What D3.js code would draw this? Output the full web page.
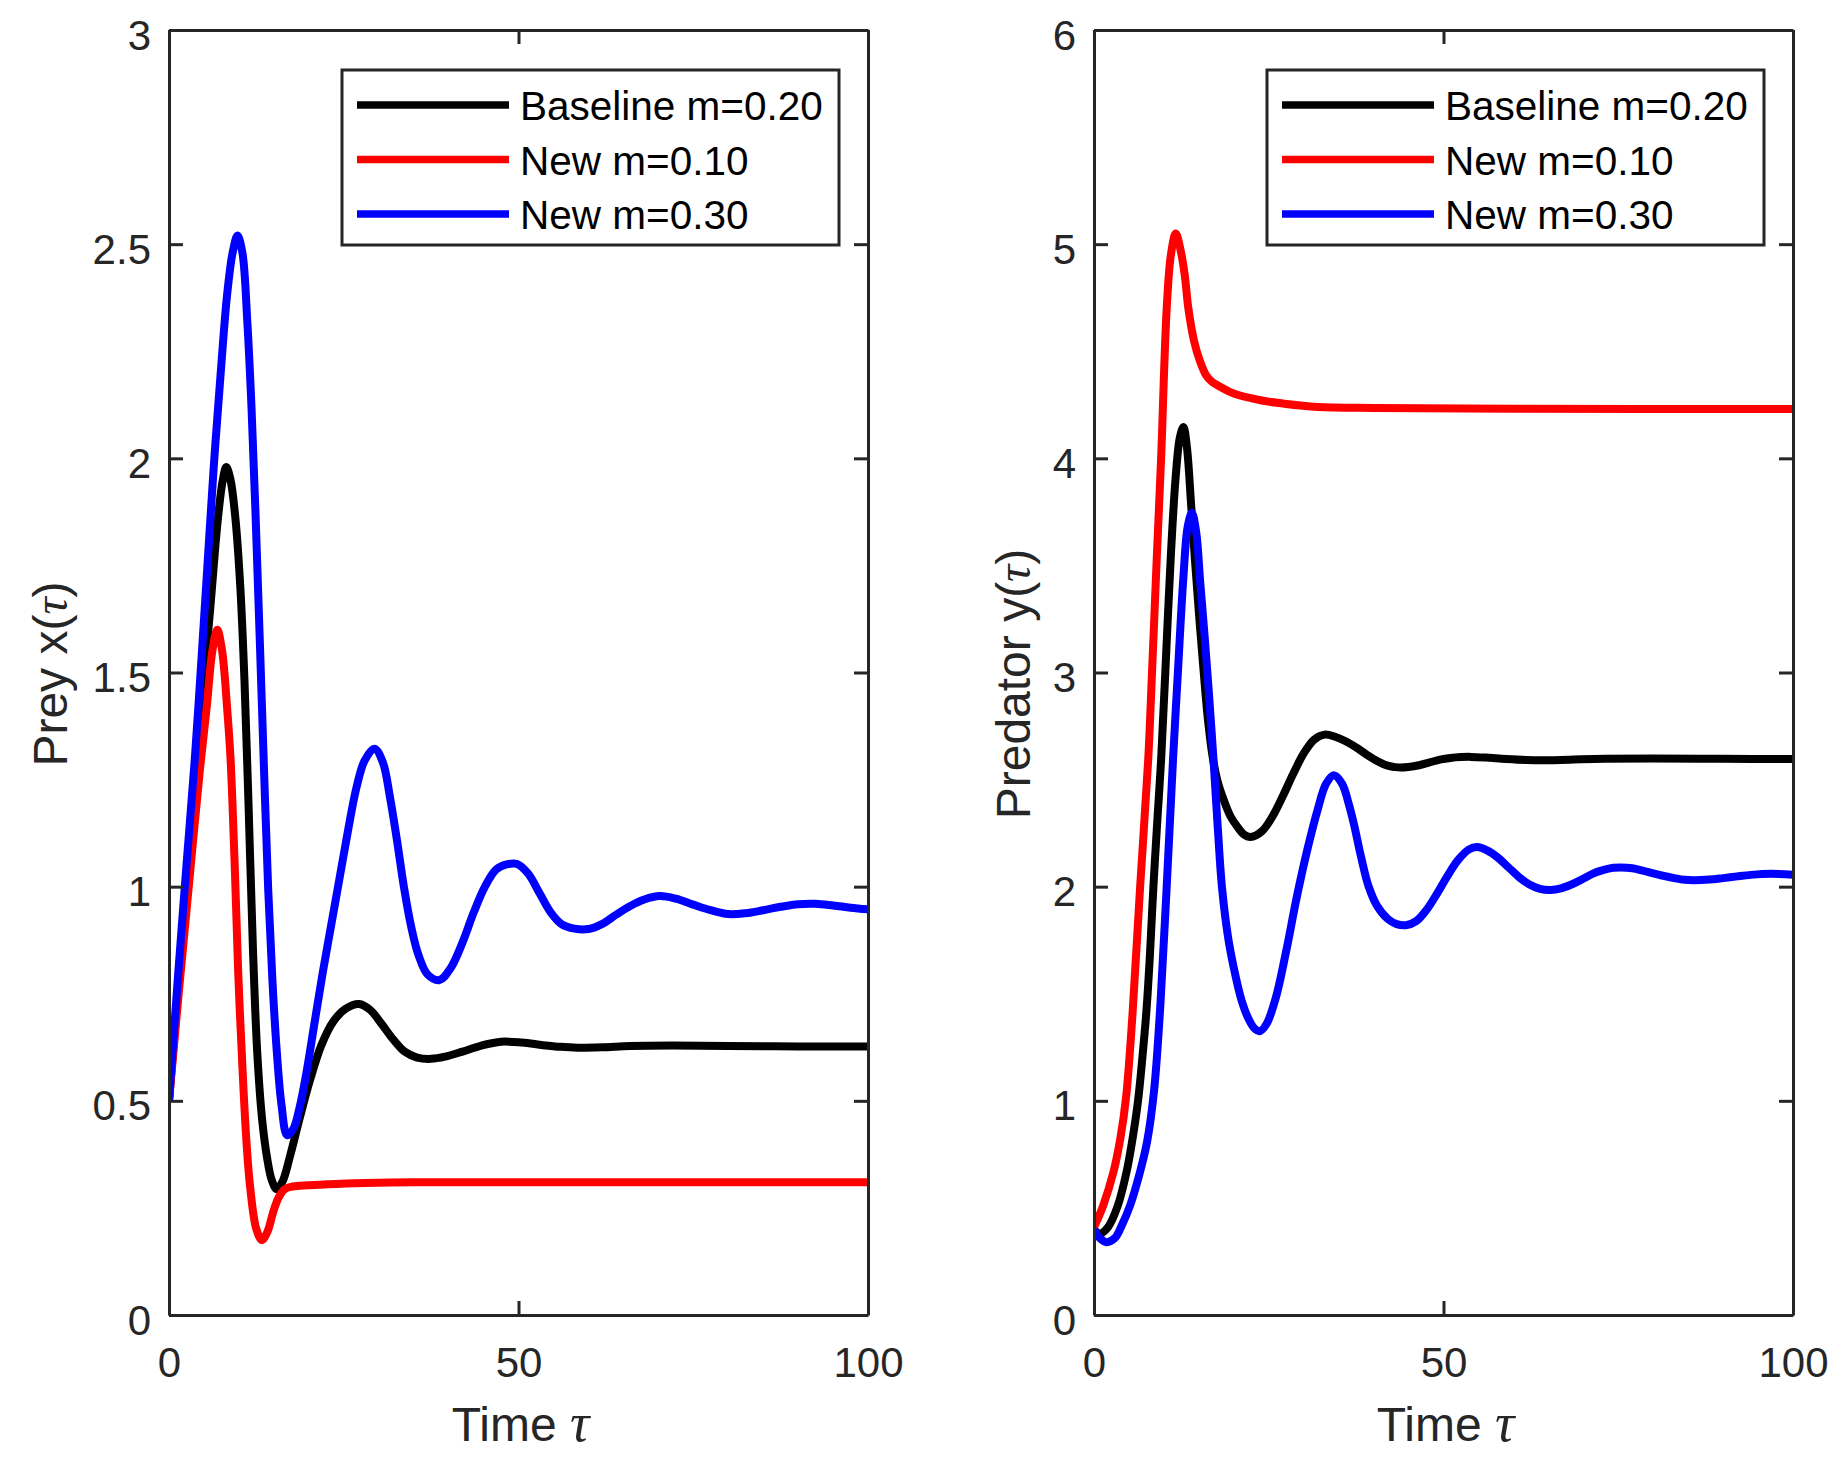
<!DOCTYPE html>
<html>
<head>
<meta charset="utf-8">
<script src="https://cdn.jsdelivr.net/npm/d3@7"></script>
<style>
  html, body { margin: 0; padding: 0; background: #ffffff; }
  svg { display: block; }
</style>
</head>
<body>
<script>
// ---------------- data ----------------
const timeDomain = [0, 100];
const xTickValues = [0, 50, 100];
const xTickLabels = ["0", "50", "100"];

const preyDomain = [0, 3];
const preyTickValues = [0, 0.5, 1, 1.5, 2, 2.5, 3];
const preyTickLabels = ["0", "0.5", "1", "1.5", "2", "2.5", "3"];

const predDomain = [0, 6];
const predTickValues = [0, 1, 2, 3, 4, 5, 6];
const predTickLabels = ["0", "1", "2", "3", "4", "5", "6"];

const seriesNames = ["Baseline m=0.20", "New m=0.10", "New m=0.30"];
const seriesColors = ["#000000", "#ff0000", "#0000ff"];

// Prey x(tau): [time, value]
const preyBaseline = [
  [0,0.5],[1.5,0.8],[3,1.1],[4.5,1.4],[5.85,1.64],[7,1.86],[7.7,1.95],[8.2,1.98],[8.8,1.95],
  [9.5,1.86],[10.2,1.70],[10.8,1.48],[11.4,1.18],[12.0,0.86],[12.6,0.62],[13.3,0.46],
  [14.0,0.37],[14.7,0.315],[15.4,0.294],[16.2,0.31],[17.3,0.37],[18.7,0.46],
  [20.2,0.55],[21.8,0.63],[23.5,0.685],[25.3,0.715],[27.2,0.726],[28.8,0.712],
  [30.4,0.68],[32,0.645],[33.7,0.615],[35.5,0.601],[37.5,0.598],[39.5,0.603],
  [42,0.615],[44.7,0.629],[47.5,0.638],[50.5,0.636],[53.5,0.63],[56,0.626],
  [58.5,0.624],[62,0.625],[66,0.628],[72,0.629],[80,0.628],[90,0.627],[100,0.627]
];
const preyLow = [
  [0,0.5],[1.5,0.77],[3,1.03],[4.4,1.27],[5.4,1.42],[6.2,1.55],[6.9,1.60],
  [7.6,1.55],[8.3,1.42],[8.8,1.30],[9.4,1.05],[9.9,0.80],[10.6,0.546],[11.1,0.40],
  [11.6,0.30],[12.5,0.20],[13.3,0.175],[14.1,0.195],[14.9,0.24],[15.7,0.275],
  [16.6,0.294],[17.7,0.300],[20,0.303],[24,0.306],[28,0.308],[35,0.31],[50,0.31],[100,0.31]
];
const preyHigh = [
  [0,0.5],[1.33,0.8],[2.5,1.05],[3.7,1.3],[4.6,1.52],[5.5,1.75],[6.4,1.98],
  [7.4,2.2],[8.3,2.38],[9.1,2.48],[9.8,2.52],[10.5,2.48],[11.2,2.32],[11.8,2.12],
  [12.4,1.86],[13.0,1.57],[13.6,1.27],[14.2,0.99],[14.8,0.78],[15.4,0.62],
  [16.1,0.49],[16.9,0.42],[17.8,0.435],[18.7,0.486],[19.6,0.56],[20.8,0.68],
  [22,0.80],[23.2,0.91],[24.4,1.02],[25.6,1.13],[26.8,1.23],[28,1.295],
  [29.4,1.322],[30.6,1.29],[31.6,1.21],[32.6,1.11],[33.6,1.0],[34.6,0.91],
  [35.7,0.84],[37,0.795],[38.7,0.782],[40.3,0.81],[42,0.87],[43.6,0.94],
  [45.2,1.0],[46.8,1.04],[48.3,1.052],[49.8,1.053],[51.4,1.03],[53,0.985],
  [54.6,0.94],[56.2,0.912],[58,0.902],[60,0.901],[62,0.913],[64,0.935],
  [66,0.955],[68,0.97],[70.2,0.978],[72.5,0.972],[75,0.958],[77.5,0.945],
  [80,0.936],[82.5,0.938],[85,0.945],[87.5,0.953],[90,0.959],[92.5,0.96],
  [95,0.956],[97.5,0.951],[100,0.947]
];

// Predator y(tau): [time, value]
const predBaseline = [
  [0,0.40],[0.8,0.38],[2,0.41],[3.4,0.51],[4.67,0.67],[5.5,0.82],[6.3,1.0],
  [7.0,1.23],[7.5,1.42],[8.0,1.68],[8.5,2.0],[9.1,2.33],[9.6,2.59],[10.2,3.0],
  [11.0,3.55],[11.7,3.92],[12.3,4.1],[12.8,4.146],[13.3,4.05],[13.9,3.78],
  [14.5,3.5],[15.1,3.24],[15.7,3.0],[16.3,2.78],[17,2.6],[17.7,2.49],[18.5,2.41],
  [19.5,2.33],[20.5,2.28],[21.4,2.245],[22.4,2.232],[24,2.258],[25.5,2.326],
  [27,2.422],[28.5,2.527],[30,2.622],[31.5,2.687],[33,2.71],[34.5,2.70],
  [36,2.679],[37.5,2.65],[39,2.617],[40.5,2.587],[42,2.565],[43.5,2.557],
  [45,2.559],[46.5,2.567],[48,2.58],[49.5,2.593],[51,2.601],[52.5,2.605],
  [53.9,2.606],[56,2.603],[59,2.596],[62,2.591],[64,2.59],[68,2.593],
  [73,2.597],[80,2.598],[90,2.597],[100,2.596]
];
const predLow = [
  [0,0.41],[1.3,0.51],[2.8,0.67],[3.8,0.83],[4.6,1.02],[5.5,1.40],[6.6,2.0],
  [7.75,2.59],[8.3,3.0],[9.0,3.55],[9.6,4.0],[10.4,4.7],[11.0,4.95],[11.7,5.05],
  [12.4,4.97],[13.0,4.85],[13.5,4.7],[14.3,4.55],[15.2,4.45],[16.0,4.39],
  [16.8,4.36],[18,4.335],[20.2,4.30],[24,4.27],[27.2,4.255],[32,4.24],
  [40,4.235],[60,4.232],[100,4.23]
];
const predHigh = [
  [0,0.40],[0.8,0.36],[1.8,0.34],[3,0.36],[4,0.42],[5.15,0.51],[6.6,0.67],
  [7.6,0.81],[8.6,1.05],[9.5,1.45],[10.4,2.0],[11.3,2.59],[12.0,3.0],
  [12.8,3.45],[13.4,3.68],[14.0,3.746],[14.6,3.66],[15.2,3.42],[15.8,3.18],
  [16.4,2.92],[17.1,2.59],[17.7,2.28],[18.3,2.0],[19.2,1.76],[20.2,1.59],
  [21.1,1.47],[22,1.39],[22.9,1.34],[23.7,1.325],[24.7,1.36],[26,1.48],
  [27.5,1.70],[29,1.95],[30.5,2.17],[32,2.36],[33.2,2.48],[34.3,2.52],
  [35.5,2.48],[36.5,2.38],[37.2,2.29],[38.2,2.14],[39.3,2.0],[40.5,1.91],
  [42,1.85],[43.3,1.825],[44.6,1.82],[46.1,1.839],[47.6,1.893],[49.1,1.969],
  [50.6,2.052],[52.1,2.125],[53.6,2.173],[54.8,2.185],[56.3,2.168],
  [57.8,2.135],[59.3,2.09],[60.8,2.045],[62.3,2.01],[63.8,1.99],[65.3,1.985],
  [66.8,1.992],[68.3,2.01],[69.8,2.034],[71.3,2.06],[72.8,2.077],[74.3,2.088],
  [75.4,2.09],[77,2.086],[78.5,2.075],[80,2.062],[81.5,2.05],[83,2.04],
  [84.5,2.032],[85.8,2.03],[88,2.033],[90,2.04],[92,2.048],[94,2.055],
  [96.8,2.06],[100,2.056]
];

const panels = [
  { yLabel: "Prey x(", domain: preyDomain, tickValues: preyTickValues, tickLabels: preyTickLabels,
    series: [preyBaseline, preyLow, preyHigh] },
  { yLabel: "Predator y(", domain: predDomain, tickValues: predTickValues, tickLabels: predTickLabels,
    series: [predBaseline, predLow, predHigh] }
];

// ---------------- layout ----------------
const W = 1841, H = 1462;
const axColor = "#262626";
const fontSans = "'Liberation Sans', Arial, Helvetica, sans-serif";
const fontSerif = "'Liberation Serif', 'DejaVu Serif', serif";
const plotLefts = [169, 1094];
const plotWidth = 699;
const plotTop = 30, plotBottom = 1315;
const yLabelX = [67, 1030];
const yLabelY = [674, 684];
const tickLen = 14;

const svg = d3.select("body").append("svg")
  .attr("width", W).attr("height", H)
  .attr("viewBox", `0 0 ${W} ${H}`);
svg.append("rect").attr("width", W).attr("height", H).attr("fill", "#ffffff");

panels.forEach((p, pi) => {
  const left = plotLefts[pi];
  const x = d3.scaleLinear().domain(timeDomain).range([left, left + plotWidth]);
  const y = d3.scaleLinear().domain(p.domain).range([plotBottom, plotTop]);

  const g = svg.append("g");

  const clipId = "clip" + pi;
  svg.append("clipPath").attr("id", clipId).append("rect")
    .attr("x", left).attr("y", plotTop - 5)
    .attr("width", plotWidth).attr("height", plotBottom - plotTop + 10);

  const line = d3.line()
    .x(d => x(d[0])).y(d => y(d[1]))
    .curve(d3.curveCatmullRom.alpha(0.5));
  const lg = g.append("g").attr("clip-path", `url(#${clipId})`);
  p.series.forEach((s, si) => {
    lg.append("path").datum(s)
      .attr("d", line)
      .attr("fill", "none")
      .attr("stroke", seriesColors[si])
      .attr("stroke-width", 8)
      .attr("stroke-linejoin", "round")
      .attr("stroke-linecap", "butt");
  });

  const styleAxis = sel => {
    sel.select(".domain").attr("stroke", axColor).attr("stroke-width", 3);
    sel.selectAll(".tick line").attr("stroke", axColor).attr("stroke-width", 3);
    sel.selectAll(".tick text")
      .attr("fill", axColor)
      .style("font-family", fontSans)
      .style("font-size", "42px");
  };

  const xb = g.append("g").attr("transform", `translate(0,${plotBottom})`)
    .call(d3.axisBottom(x).tickValues(xTickValues)
      .tickFormat((d, i) => xTickLabels[i])
      .tickSizeInner(-tickLen).tickSizeOuter(0).tickPadding(32));
  styleAxis(xb);

  const xt = g.append("g").attr("transform", `translate(0,${plotTop})`)
    .call(d3.axisTop(x).tickValues(xTickValues).tickFormat(() => "")
      .tickSizeInner(-tickLen).tickSizeOuter(0));
  styleAxis(xt);

  const yl = g.append("g").attr("transform", `translate(${left},0)`)
    .call(d3.axisLeft(y).tickValues(p.tickValues)
      .tickFormat((d, i) => p.tickLabels[i])
      .tickSizeInner(-tickLen).tickSizeOuter(0).tickPadding(18));
  styleAxis(yl);
  yl.selectAll(".tick text").attr("dy", null).attr("y", 19);

  const yr = g.append("g").attr("transform", `translate(${left + plotWidth},0)`)
    .call(d3.axisRight(y).tickValues(p.tickValues).tickFormat(() => "")
      .tickSizeInner(-tickLen).tickSizeOuter(0));
  styleAxis(yr);

  const xl = g.append("text")
    .attr("x", left + plotWidth / 2 + 2).attr("y", 1441)
    .attr("text-anchor", "middle")
    .attr("fill", axColor)
    .style("font-family", fontSans).style("font-size", "48px");
  xl.append("tspan").text("Time ");
  xl.append("tspan").style("font-family", fontSerif).style("font-style", "italic")
    .style("font-size", "54px").text("τ");

  const ylab = g.append("text")
    .attr("transform", `translate(${yLabelX[pi]},${yLabelY[pi]}) rotate(-90)`)
    .attr("text-anchor", "middle")
    .attr("fill", axColor)
    .style("font-family", fontSans).style("font-size", "48px");
  ylab.append("tspan").text(p.yLabel);
  ylab.append("tspan").style("font-family", fontSerif).style("font-style", "italic").text("τ");
  ylab.append("tspan").text(")");

  const lx = left + 173, ly = 70, lw = 497, lh = 175;
  const leg = g.append("g");
  leg.append("rect").attr("x", lx).attr("y", ly).attr("width", lw).attr("height", lh)
    .attr("fill", "#ffffff").attr("stroke", axColor).attr("stroke-width", 3);
  seriesNames.forEach((name, si) => {
    const ry = ly + 35 + si * 54.5;
    leg.append("line")
      .attr("x1", lx + 15).attr("x2", lx + 167)
      .attr("y1", ry).attr("y2", ry)
      .attr("stroke", seriesColors[si]).attr("stroke-width", 7.5);
    leg.append("text")
      .attr("x", lx + 178).attr("y", ry + 15)
      .attr("fill", "#000000")
      .style("font-family", fontSans).style("font-size", "40.5px")
      .text(name);
  });
});
</script>
</body>
</html>
